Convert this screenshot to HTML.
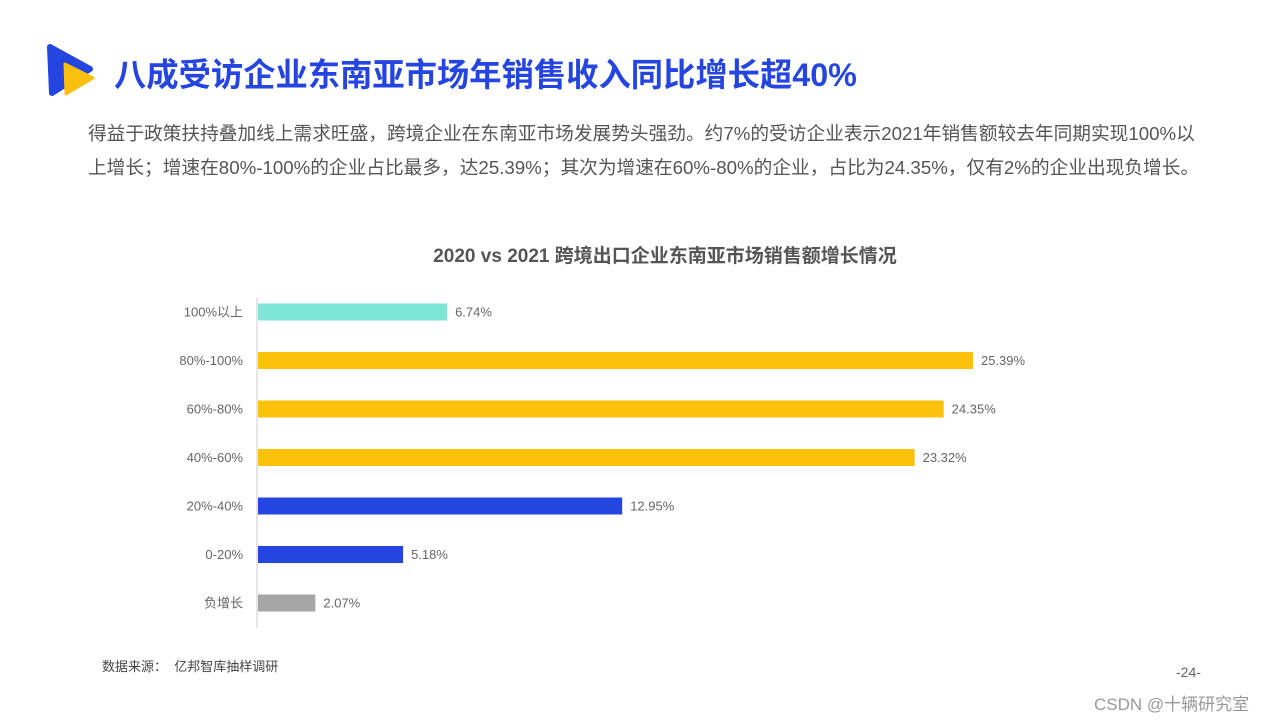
<!DOCTYPE html>
<html><head><meta charset="utf-8"><style>
body{margin:0;width:1280px;height:720px;background:#fff;position:relative;overflow:hidden;font-family:"Liberation Sans","Noto Sans CJK SC",sans-serif;}
.abs{position:absolute;}
</style></head><body>
<svg class="abs" style="left:44px;top:42px" width="52" height="56">
<path d="M6 5 L46 27 L8 51 Z" fill="#2545e0" stroke="#2545e0" stroke-width="6" stroke-linejoin="round"/>
<path d="M21 22 L49 36 L22 52 Z" fill="#fbbf10" stroke="#fbbf10" stroke-width="3" stroke-linejoin="round"/>
</svg>
<div class="abs" style="left:114px;top:50px;font-size:32.3px;font-weight:bold;color:#2545e0;white-space:nowrap">八成受访企业东南亚市场年销售收入同比增长超40%</div>
<div class="abs" style="left:88px;top:117px;font-size:18.7px;line-height:34px;color:#555;white-space:nowrap">得益于政策扶持叠加线上需求旺盛，跨境企业在东南亚市场发展势头强劲。约7%的受访企业表示2021年销售额较去年同期实现100%以<br>上增长；增速在80%-100%的企业占比最多，达25.39%；其次为增速在60%-80%的企业，占比为24.35%，仅有2%的企业出现负增长。</div>
<div class="abs" style="left:0;width:1330px;text-align:center;top:241px;font-size:19px;font-weight:bold;color:#555">2020 vs 2021 跨境出口企业东南亚市场销售额增长情况</div>
<svg id="chart" class="abs" style="left:0;top:0" width="1280" height="720"></svg>
<div class="abs" style="left:102px;top:656px;font-size:13px;color:#444">数据来源：&nbsp; 亿邦智库抽样调研</div>
<div class="abs" style="left:1176px;top:664px;font-size:14px;color:#666">-24-</div>
<div class="abs" style="left:1094px;top:690px;font-size:17px;color:#999">CSDN @十辆研究室</div>
<script>
const categories=["100%以上","80%-100%","60%-80%","40%-60%","20%-40%","0-20%","负增长"];
const values=[6.74,25.39,24.35,23.32,12.95,5.18,2.07];
const colors=["#7de6d6","#fcc10a","#fcc10a","#fcc10a","#2545e0","#2545e0","#a6a6a6"];
const svg=document.getElementById('chart');
const NS="http://www.w3.org/2000/svg";
const x0=257,scale=28.2;
const xs=v=>x0+v*scale;
const ys=i=>312+i*48.5;
const ax=document.createElementNS(NS,'line');
ax.setAttribute('x1',x0);ax.setAttribute('x2',x0);ax.setAttribute('y1',298);ax.setAttribute('y2',628);
ax.setAttribute('stroke','#ddd');ax.setAttribute('stroke-width','1.5');


svg.appendChild(ax);
categories.forEach((c,i)=>{
const r=document.createElementNS(NS,'rect');
r.setAttribute('x',x0+1);r.setAttribute('y',ys(i)-8.5);r.setAttribute('width',xs(values[i])-x0-1);r.setAttribute('height',17);r.setAttribute('fill',colors[i]);


svg.appendChild(r);
const t=document.createElementNS(NS,'text');
t.setAttribute('x',243);t.setAttribute('y',ys(i)+4.5);t.setAttribute('text-anchor','end');t.setAttribute('font-size','13');t.setAttribute('fill','#666');t.textContent=c;


svg.appendChild(t);
const v=document.createElementNS(NS,'text');
v.setAttribute('x',xs(values[i])+8);v.setAttribute('y',ys(i)+4.5);v.setAttribute('font-size','13');v.setAttribute('fill','#666');v.textContent=values[i].toFixed(2)+'%';


svg.appendChild(v);
});
</script>
</body></html>
